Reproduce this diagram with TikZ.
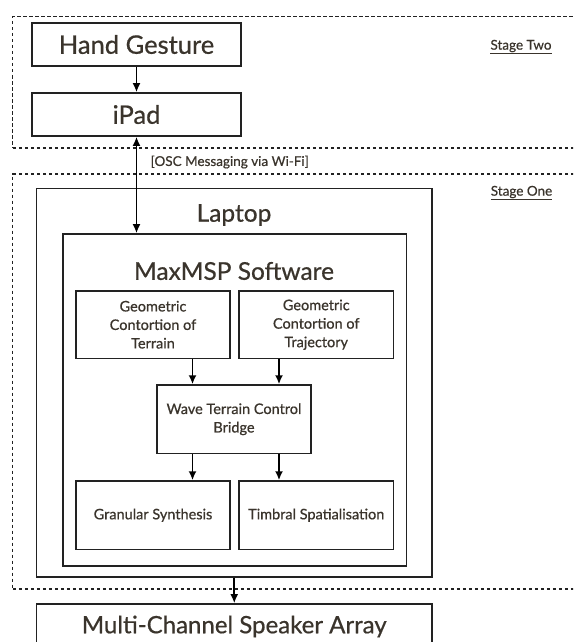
\documentclass[tikz,border=0pt]{standalone}
\usepackage{fontspec}
\setmainfont{Lato}
\newfontfamily\gill{Lato}[FakeBold=0.6]
\usetikzlibrary{arrows.meta}
\definecolor{txt}{HTML}{3A342C}
\definecolor{ln}{HTML}{222222}
\begin{document}
\begin{tikzpicture}[x=1pt,y=-1pt,
  box/.style={draw=ln, line width=1.6pt, fill=white, text=txt, align=center, inner sep=0pt},
  stagebox/.style={draw=ln, line width=1.2pt, dash pattern=on 3.5pt off 2.5pt, inner sep=0pt},
  arr/.style={draw=black, line width=1.9pt, -{Latex[length=9pt,width=8pt]}},
  darr/.style={draw=black, line width=1.9pt, {Latex[length=9pt,width=8pt]}-{Latex[length=9pt,width=8pt]}},
  bigf/.style={font=\gill\fontsize{25.5}{28}\selectfont},
  spkf/.style={font=\gill\fontsize{24}{28}\selectfont},
  midf/.style={font=\gill\fontsize{24.5}{28}\selectfont},
  smallf/.style={font=\gill\fontsize{14.5}{18.5}\selectfont},
  lab/.style={text=txt, inner sep=0pt, font=\gill\fontsize{13.5}{16}\selectfont}]
\useasboundingbox (0,0) rectangle (573,642);
\clip (0,0) rectangle (573,642);
% stage boxes
\node[stagebox, minimum width=577.2pt, minimum height=131.3pt] (stwo) at (301.4,82.35) {};
\node[stagebox, minimum width=577.2pt, minimum height=415pt] (sone) at (301.4,381.5) {};
% top
\node[box, bigf, minimum width=209pt, minimum height=43pt] (hand) at (136.5,44.5) {Hand Gesture};
\node[box, bigf, minimum width=209pt, minimum height=43pt] (ipad) at (136.5,114.5) {iPad};
% laptop
\node[box, minimum width=395.5pt, minimum height=388.2pt] (laptop) at (234.25,382.6) {};
\node[text=txt, midf, inner sep=0pt] (laptoplab) at (234,215) {Laptop};
\node[box, minimum width=343.8pt, minimum height=332pt] (maxmsp) at (234.7,400) {};
\node[text=txt, midf, inner sep=0pt] (maxlab) at (234,271) {MaxMSP Software};
\node[box, smallf, minimum width=154pt, minimum height=67.5pt] (terrain) at (153,324.7) {Geometric\\Contortion of\\Terrain};
\node[box, smallf, minimum width=154.5pt, minimum height=67.5pt] (traj) at (316.25,324.7) {Geometric\\Contortion of\\Trajectory};
\node[box, smallf, minimum width=154pt, minimum height=68.3pt] (wave) at (234,419.2) {Wave Terrain Control\\Bridge};
\node[box, smallf, minimum width=154pt, minimum height=68.3pt] (gran) at (153,515.2) {Granular Synthesis};
\node[box, smallf, minimum width=154.5pt, minimum height=68.3pt] (timb) at (316.25,515.2) {Timbral Spatialisation};
\node[box, spkf, minimum width=395.5pt, minimum height=45pt] (speaker) at (234.25,626.5) {Multi-Channel Speaker Array};
% labels
\node[lab] (stwolab) at (521,47) {\underline{Stage Two}};
\node[lab] (sonelab) at (521.5,193) {\underline{Stage One}};
\node[lab, anchor=west] (osc) at (150.5,162) {[OSC Messaging via Wi-Fi]};
% arrows
\draw[arr] (hand.south) -- (ipad.north);
\draw[darr] (ipad.south) -- (ipad.south |- maxmsp.north);
\draw[arr] ([xshift=39.5pt]terrain.south) -- ([xshift=39.5pt]terrain.south |- wave.north);
\draw[arr] ([xshift=-37.25pt]traj.south) -- ([xshift=-37.25pt]traj.south |- wave.north);
\draw[arr] ([xshift=-41.5pt]wave.south) -- ([xshift=-41.5pt]wave.south |- gran.north);
\draw[arr] ([xshift=45pt]wave.south) -- ([xshift=45pt]wave.south |- timb.north);
\draw[arr] (laptop.south) -- (speaker.north);
\end{tikzpicture}
\end{document}
